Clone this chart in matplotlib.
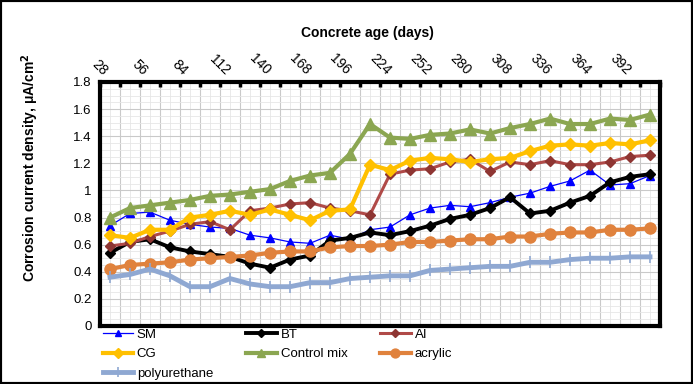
import numpy as np
import matplotlib
matplotlib.use("Agg")
import matplotlib.pyplot as plt
from matplotlib.patches import Rectangle

plt.rcParams["font.family"] = ["Liberation Sans", "DejaVu Sans"]

# top-axis labels (concrete age, days)
age_labels = ["28", "56", "84", "112", "140", "168", "196", "224",
              "252", "280", "308", "336", "364", "392"]

sm = [0.74, 0.83, 0.84, 0.78, 0.75, 0.73, 0.72, 0.67, 0.65, 0.62, 0.61, 0.67, 0.64, 0.71,
      0.73, 0.82, 0.87, 0.89, 0.88, 0.91, 0.95, 0.98, 1.03, 1.07, 1.15, 1.04, 1.05, 1.11]
bt = [0.54, 0.62, 0.64, 0.58, 0.55, 0.53, 0.51, 0.46, 0.43, 0.49, 0.52, 0.63, 0.65, 0.69,
      0.67, 0.70, 0.74, 0.79, 0.82, 0.87, 0.95, 0.83, 0.85, 0.91, 0.96, 1.06, 1.10, 1.12]
ai = [0.59, 0.61, 0.66, 0.70, 0.75, 0.77, 0.71, 0.85, 0.87, 0.90, 0.91, 0.87, 0.85, 0.82,
      1.12, 1.15, 1.16, 1.21, 1.23, 1.14, 1.21, 1.19, 1.22, 1.19, 1.19, 1.21, 1.25, 1.26]
cg = [0.67, 0.65, 0.71, 0.71, 0.80, 0.82, 0.85, 0.82, 0.86, 0.82, 0.78, 0.85, 0.86, 1.19,
      1.15, 1.22, 1.24, 1.23, 1.21, 1.23, 1.24, 1.29, 1.33, 1.34, 1.33, 1.35, 1.34, 1.37]
control = [0.80, 0.87, 0.89, 0.91, 0.93, 0.96, 0.97, 0.99, 1.01, 1.07, 1.11, 1.13, 1.27, 1.49,
           1.39, 1.38, 1.41, 1.42, 1.45, 1.42, 1.46, 1.49, 1.53, 1.49, 1.49, 1.53, 1.52, 1.56]
acrylic = [0.42, 0.45, 0.46, 0.47, 0.49, 0.50, 0.51, 0.52, 0.54, 0.55, 0.55, 0.58, 0.59, 0.59,
           0.60, 0.62, 0.62, 0.63, 0.64, 0.64, 0.66, 0.66, 0.68, 0.69, 0.69, 0.71, 0.71, 0.72]
polyurethane = [0.36, 0.38, 0.42, 0.37, 0.29, 0.29, 0.35, 0.31, 0.29, 0.29, 0.32, 0.32, 0.35, 0.36,
                0.37, 0.37, 0.41, 0.42, 0.43, 0.44, 0.44, 0.47, 0.47, 0.49, 0.50, 0.50, 0.51, 0.51]

n = len(sm)
x = np.arange(n) + 0.5

fig = plt.figure(figsize=(6.93, 3.84), dpi=100)
ax = fig.add_axes([100 / 693, 1 - 326 / 384, 560 / 693, 244 / 384])

series = [
    ("SM", sm, dict(color="#0000FF", lw=0.9, marker="^", ms=6)),
    ("BT", bt, dict(color="black", lw=2.8, marker="D", ms=5.5)),
    ("AI", ai, dict(color="#B04A48", lw=2.2, marker="D", ms=5.5, mfc="#8E3532", mec="#8E3532")),
    ("CG", cg, dict(color="#FFC000", lw=3, marker="D", ms=6)),
    ("Control mix", control, dict(color="#8BA651", lw=3, marker="^", ms=8)),
    ("acrylic", acrylic, dict(color="#E0823D", lw=3, marker="o", ms=8)),
    ("polyurethane", polyurethane, dict(color="#8FA8D2", lw=3.5, marker="|", ms=9, mew=1.2)),
]
handles = {}
for name, vals, kw in series:
    h, = ax.plot(x, vals, label=name, zorder=3, **kw)
    handles[name] = h

ax.set_xlim(0, n)
ax.set_ylim(0, 1.8)
ax.set_yticks(np.arange(0, 1.81, 0.2))
ax.set_yticklabels(["0", "0.2", "0.4", "0.6", "0.8", "1", "1.2", "1.4", "1.6", "1.8"], fontsize=9.5)
ax.set_yticks(np.arange(0, 1.81, 0.05), minor=True)

ax.xaxis.tick_top()
ax.set_xticks(np.arange(0, n + 1))
labels = [""] * (n + 1)
for i, lab in enumerate(age_labels):
    labels[2 * i] = lab
ax.set_xticklabels(labels, rotation=-45, fontsize=10, ha="center")
ax.set_xticks(np.arange(0.5, n, 1), minor=True)
ax.tick_params(axis="x", which="major", direction="in", length=3.5, width=2.5, pad=3)
ax.tick_params(axis="x", which="minor", length=0)
ax.tick_params(axis="y", which="both", length=0, pad=6)

ax.grid(which="major", color="#C9C9C9", lw=0.8, zorder=0)
ax.grid(which="minor", color="#E6E6E6", lw=0.6, zorder=0)
ax.set_axisbelow(True)
for s in ax.spines.values():
    s.set_linewidth(3)
    s.set_color("black")

fig.text(367 / 693, 1 - 33 / 384, "Concrete age (days)", ha="center", va="center",
         fontsize=10, fontweight="bold")
fig.text(30 / 693, 1 - 168 / 384, "Corrosion current density, μA/cm$^\\mathbf{2}$", ha="center",
         va="center", rotation=90, fontsize=10, fontweight="bold")

order = ["SM", "CG", "polyurethane", "BT", "Control mix", "AI", "acrylic"]
leg = fig.legend([handles[k] for k in order], order, ncol=3, loc="upper left",
                 bbox_to_anchor=(92 / 693, 1 - 318 / 384), frameon=False, fontsize=9.5,
                 handlelength=2.3, handletextpad=0.3, columnspacing=2.5, labelspacing=0.55,
                 markerscale=0.8, borderpad=0.3)

fig.patches.append(Rectangle((0, 0), 1, 1, transform=fig.transFigure, fill=False,
                             edgecolor="black", lw=3, zorder=10))

fig.savefig("out.png", dpi=100, facecolor="white")
